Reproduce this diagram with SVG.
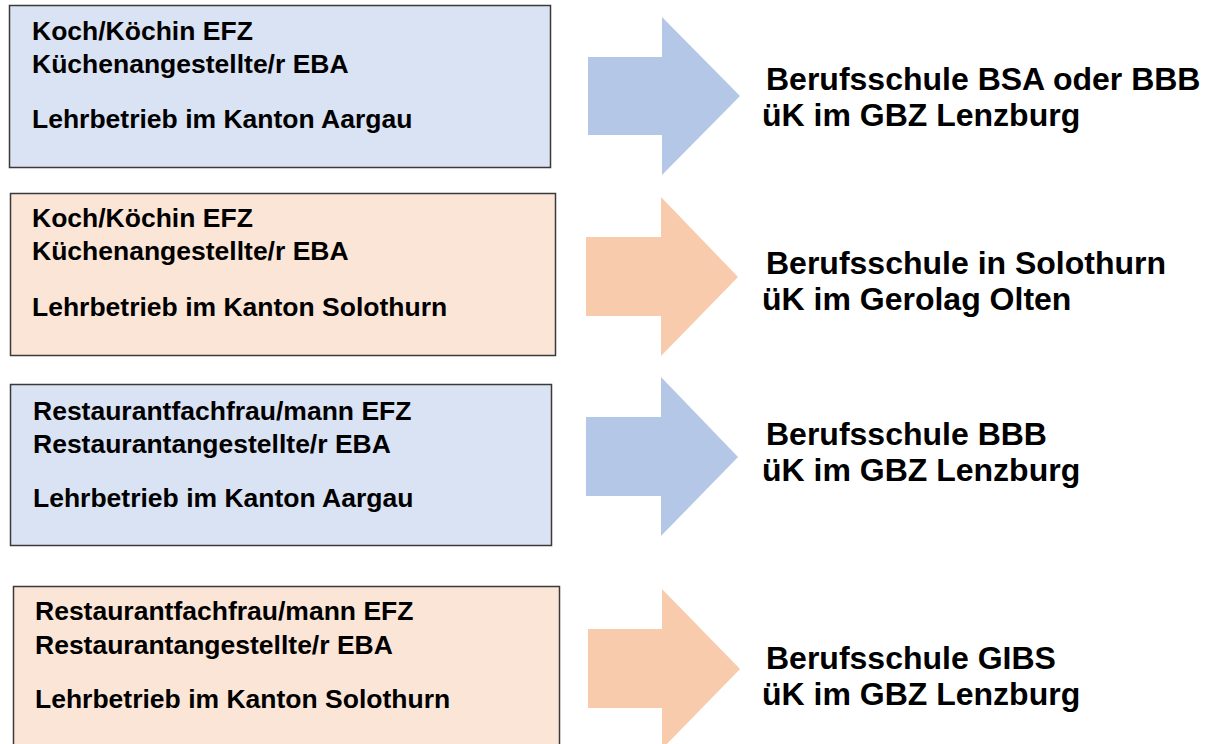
<svg xmlns="http://www.w3.org/2000/svg" width="1212" height="744" viewBox="0 0 1212 744">
<style>
.box{stroke:#3a3a3a;stroke-width:1.5}
.blue{fill:#dae3f3}
.orange{fill:#fbe5d6}
.ablue{fill:#b4c7e7}
.aorange{fill:#f8cbad}
.lt{font-family:"Liberation Sans",Arial,sans-serif;font-weight:bold;font-size:26.5px;fill:#000}
.rt{font-family:"Liberation Sans",Arial,sans-serif;font-weight:bold;font-size:32px;fill:#000}
</style>
<rect width="1212" height="744" fill="#fff"/>
<g id="node1">
<rect class="box blue" x="9.5" y="5.5" width="541" height="162"/>
<text class="lt" x="32" y="40">Koch/Köchin EFZ</text>
<text class="lt" x="32" y="73">Küchenangestellte/r EBA</text>
<text class="lt" x="32" y="128">Lehrbetrieb im Kanton Aargau</text>
</g>
<g id="node2">
<rect class="box orange" x="10.5" y="193.5" width="545" height="162"/>
<text class="lt" x="32" y="227">Koch/Köchin EFZ</text>
<text class="lt" x="32" y="260">Küchenangestellte/r EBA</text>
<text class="lt" x="32" y="316">Lehrbetrieb im Kanton Solothurn</text>
</g>
<g id="node3">
<rect class="box blue" x="10.5" y="384.5" width="541" height="161"/>
<text class="lt" x="33" y="420">Restaurantfachfrau/mann EFZ</text>
<text class="lt" x="33" y="453">Restaurantangestellte/r EBA</text>
<text class="lt" x="33" y="507">Lehrbetrieb im Kanton Aargau</text>
</g>
<g id="node4">
<rect class="box orange" x="13.5" y="586.5" width="546" height="170"/>
<text class="lt" x="35" y="620">Restaurantfachfrau/mann EFZ</text>
<text class="lt" x="35" y="654">Restaurantangestellte/r EBA</text>
<text class="lt" x="35" y="708">Lehrbetrieb im Kanton Solothurn</text>
</g>
<g id="connectors">
<polygon class="ablue" points="588,57 662,57 662,17 740,96 662,175 662,135 588,135"/>
<polygon class="aorange" points="586,237 661,237 661,197 738,277 661,356 661,316 586,316"/>
<polygon class="ablue" points="586,417 661,417 661,377 738,457 661,536 661,496 586,496"/>
<polygon class="aorange" points="588,629 662,629 662,589 740,669 662,749 662,708 588,708"/>
</g>
<g id="target1">
<text class="rt" x="766" y="90">Berufsschule BSA oder BBB</text>
<text class="rt" x="762" y="126">üK im GBZ Lenzburg</text>
</g>
<g id="target2">
<text class="rt" x="766" y="274">Berufsschule in Solothurn</text>
<text class="rt" x="762" y="310">üK im Gerolag Olten</text>
</g>
<g id="target3">
<text class="rt" x="766" y="445">Berufsschule BBB</text>
<text class="rt" x="762" y="481">üK im GBZ Lenzburg</text>
</g>
<g id="target4">
<text class="rt" x="766" y="669">Berufsschule GIBS</text>
<text class="rt" x="762" y="705">üK im GBZ Lenzburg</text>
</g>
</svg>
